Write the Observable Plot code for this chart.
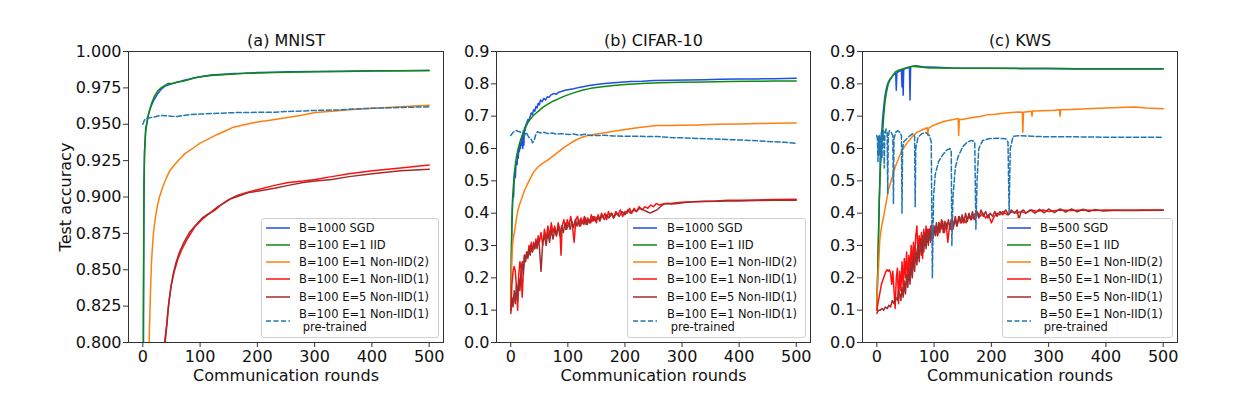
<!DOCTYPE html>
<html><head><meta charset="utf-8">
<script src="https://cdn.jsdelivr.net/npm/d3@7"></script>
<script src="https://cdn.jsdelivr.net/npm/@observablehq/plot@0.6"></script>
<style>
body{margin:0;background:#fff;font-family:"DejaVu Sans",sans-serif;}
#wrap{position:relative;width:1249px;height:412px;overflow:hidden;background:#fff;}
.leg{position:absolute;border:1px solid #d0d0d0;border-radius:3px;background:rgba(255,255,255,0.85);}
</style></head><body><div id="wrap"></div>
<script>
// ---------- tick labels / titles ----------
const titles = ["(a) MNIST", "(b) CIFAR-10", "(c) KWS"];
const xTicks = [0, 100, 200, 300, 400, 500];
const yTicksMnist = [0.800, 0.825, 0.850, 0.875, 0.900, 0.925, 0.950, 0.975, 1.000];
const yTicksOther = [0.0, 0.1, 0.2, 0.3, 0.4, 0.5, 0.6, 0.7, 0.8, 0.9];
const labelsMnistCifar = ["B=1000 SGD", "B=100 E=1 IID", "B=100 E=1 Non-IID(2)", "B=100 E=1 Non-IID(1)", "B=100 E=5 Non-IID(1)", "B=100 E=1 Non-IID(1)\n pre-trained"];
const labelsKws = ["B=500 SGD", "B=50 E=1 IID", "B=50 E=1 Non-IID(2)", "B=50 E=1 Non-IID(1)", "B=50 E=5 Non-IID(1)", "B=50 E=1 Non-IID(1)\n pre-trained"];

// ---------- (a) MNIST : [round, accuracy] ----------
const mnistSGD = [[0,0.10],[1,0.80],[2,0.90],[3,0.93],[5,0.945],[8,0.953],[10,0.957],[15,0.963],[20,0.967],[26,0.971],[32,0.974],[38,0.976],[44,0.977],[52,0.978],[61,0.979],[70,0.980],[80,0.981],[91,0.982],[105,0.983],[119,0.9838],[140,0.9843],[160,0.9848],[178,0.985],[200,0.9855],[230,0.9858],[254,0.986],[300,0.9862],[350,0.9865],[400,0.9867],[450,0.9868],[500,0.987]];
const mnistIID = [[0,0.10],[1,0.82],[2,0.91],[3,0.932],[5,0.947],[9,0.955],[12,0.96],[15,0.964],[20,0.969],[26,0.973],[32,0.975],[38,0.9765],[44,0.978],[52,0.978],[61,0.979],[70,0.9795],[80,0.9805],[91,0.982],[105,0.9828],[119,0.9835],[140,0.984],[160,0.9845],[178,0.985],[200,0.9852],[230,0.9855],[254,0.9858],[300,0.986],[350,0.9863],[400,0.9866],[450,0.9868],[500,0.987]];
const mnistNon2 = [[0,0.10],[3,0.30],[6,0.52],[8,0.65],[10,0.76],[11,0.80],[13,0.83],[15,0.854],[17,0.867],[19,0.877],[22,0.886],[25,0.893],[29,0.900],[35,0.907],[41,0.913],[47,0.918],[55,0.922],[64,0.926],[74,0.930],[86,0.933],[100,0.937],[115,0.940],[130,0.943],[145,0.9455],[158,0.948],[175,0.9495],[200,0.9515],[225,0.953],[250,0.9545],[275,0.956],[301,0.958],[330,0.959],[360,0.960],[401,0.961],[450,0.962],[500,0.963]];
const mnistNon1 = [[0,0.10],[10,0.30],[20,0.50],[28,0.65],[34,0.75],[38,0.80],[41,0.81],[44,0.822],[47,0.832],[50,0.84],[55,0.849],[61,0.857],[68,0.864],[79,0.872],[90,0.879],[102,0.884],[114,0.888],[126,0.891],[138,0.895],[149,0.898],[165,0.901],[180,0.903],[200,0.905],[230,0.908],[254,0.910],[280,0.911],[301,0.912],[330,0.914],[360,0.916],[401,0.918],[450,0.920],[500,0.922]];
const mnistE5 = [[0,0.10],[10,0.28],[20,0.48],[28,0.63],[34,0.74],[39,0.80],[42,0.812],[45,0.826],[49,0.838],[53,0.847],[58,0.855],[64,0.862],[72,0.869],[82,0.876],[93,0.881],[105,0.886],[117,0.889],[130,0.893],[142,0.896],[155,0.899],[170,0.901],[185,0.903],[200,0.904],[230,0.906],[254,0.908],[280,0.910],[301,0.911],[330,0.912],[360,0.914],[401,0.916],[450,0.918],[500,0.919]];
const mnistPre = [[0,0.950],[3,0.953],[6,0.954],[12,0.9545],[20,0.955],[30,0.956],[40,0.9558],[50,0.9555],[60,0.9553],[70,0.956],[80,0.9565],[100,0.957],[130,0.9575],[160,0.958],[200,0.9582],[230,0.9583],[250,0.9588],[270,0.959],[300,0.9595],[340,0.9598],[370,0.9605],[400,0.961],[450,0.9615],[500,0.962]];

// ---------- (b) CIFAR-10 ----------
const cifarSGD = [[0,0.10],[1,0.25],[2,0.36],[3,0.42],[4,0.46],[5,0.45],[6,0.50],[7,0.52],[8,0.51],[9,0.55],[10,0.56],[11,0.55],[12,0.58],[13,0.57],[14,0.60],[15,0.59],[16,0.61],[17,0.60],[18,0.63],[19,0.61],[20,0.64],[21,0.60],[22,0.655],[23,0.61],[24,0.665],[25,0.655],[26,0.67],[28,0.68],[30,0.69],[32,0.685],[34,0.70],[36,0.71],[38,0.705],[40,0.72],[42,0.715],[44,0.73],[46,0.725],[48,0.74],[50,0.735],[52,0.75],[55,0.745],[58,0.755],[61,0.75],[64,0.76],[67,0.758],[70,0.765],[75,0.77],[80,0.768],[85,0.775],[90,0.777],[95,0.78],[100,0.782],[110,0.785],[120,0.789],[135,0.794],[150,0.798],[165,0.801],[180,0.803],[193,0.805],[210,0.807],[230,0.808],[251,0.810],[280,0.811],[310,0.812],[340,0.813],[367,0.814],[400,0.815],[430,0.815],[460,0.816],[500,0.817]];
const cifarIID = [[0,0.10],[1,0.28],[2,0.38],[3,0.44],[4,0.47],[6,0.52],[8,0.55],[10,0.575],[13,0.60],[16,0.62],[19,0.635],[22,0.65],[26,0.665],[30,0.68],[35,0.693],[40,0.703],[48,0.715],[56,0.727],[65,0.737],[75,0.747],[85,0.755],[94,0.762],[110,0.772],[125,0.78],[140,0.786],[160,0.791],[180,0.795],[200,0.798],[230,0.801],[260,0.803],[300,0.805],[340,0.806],[380,0.807],[420,0.808],[460,0.8085],[500,0.809]];
const cifarNon2 = [[0,0.10],[1,0.20],[2,0.26],[3,0.30],[5,0.33],[6,0.337],[8,0.36],[10,0.385],[12,0.405],[15,0.425],[18,0.44],[21,0.455],[24,0.47],[28,0.485],[32,0.50],[35,0.51],[40,0.527],[47,0.542],[55,0.553],[64,0.563],[75,0.578],[85,0.592],[94,0.604],[105,0.617],[115,0.627],[122,0.633],[135,0.64],[150,0.645],[165,0.649],[180,0.653],[195,0.657],[209,0.661],[225,0.665],[240,0.668],[256,0.671],[280,0.671],[300,0.672],[330,0.673],[360,0.675],[400,0.676],[430,0.677],[460,0.678],[500,0.679]];
const cifarNon1 = [[0,0.10],[2,0.18],[4,0.22],[6,0.235],[8,0.22],[10,0.17],[12,0.10],[14,0.21],[16,0.25],[18,0.23],[20,0.14],[22,0.22],[24,0.27],[26,0.26],[28,0.28],[30,0.27],[32,0.30],[34,0.29],[36,0.31],[38,0.28],[40,0.31],[42,0.29],[44,0.32],[46,0.30],[48,0.33],[50,0.31],[53,0.34],[56,0.30],[59,0.35],[62,0.32],[65,0.36],[68,0.33],[71,0.37],[74,0.34],[77,0.36],[80,0.33],[83,0.37],[86,0.35],[88,0.27],[90,0.36],[93,0.38],[96,0.35],[99,0.38],[102,0.36],[105,0.39],[108,0.36],[111,0.31],[114,0.38],[117,0.39],[120,0.36],[123,0.385],[126,0.37],[129,0.39],[132,0.365],[135,0.385],[138,0.37],[141,0.395],[144,0.375],[147,0.39],[150,0.37],[153,0.395],[156,0.38],[159,0.40],[162,0.385],[165,0.40],[168,0.38],[171,0.405],[174,0.39],[177,0.40],[180,0.385],[184,0.405],[188,0.395],[192,0.41],[196,0.39],[200,0.405],[204,0.40],[208,0.415],[212,0.40],[216,0.415],[220,0.405],[225,0.42],[230,0.41],[235,0.42],[240,0.415],[245,0.425],[250,0.42],[255,0.43],[260,0.425],[270,0.43],[280,0.43],[290,0.432],[300,0.434],[320,0.435],[340,0.437],[360,0.438],[380,0.44],[400,0.44],[430,0.441],[460,0.442],[500,0.443]];
const cifarE5 = [[0,0.09],[2,0.14],[4,0.11],[6,0.16],[8,0.12],[10,0.18],[12,0.13],[14,0.20],[16,0.16],[18,0.22],[20,0.25],[22,0.21],[24,0.27],[26,0.25],[28,0.28],[30,0.26],[32,0.29],[34,0.27],[36,0.30],[38,0.28],[40,0.30],[42,0.29],[44,0.31],[46,0.29],[48,0.32],[50,0.30],[53,0.22],[56,0.31],[59,0.33],[62,0.30],[65,0.34],[68,0.31],[71,0.35],[74,0.32],[77,0.35],[80,0.33],[83,0.36],[86,0.33],[89,0.36],[92,0.34],[95,0.37],[98,0.35],[101,0.37],[104,0.35],[107,0.375],[110,0.355],[113,0.38],[116,0.36],[119,0.38],[122,0.36],[125,0.375],[128,0.365],[131,0.385],[134,0.365],[137,0.38],[140,0.37],[144,0.39],[148,0.375],[152,0.39],[156,0.375],[160,0.395],[164,0.38],[168,0.395],[172,0.385],[176,0.40],[180,0.385],[185,0.40],[190,0.39],[195,0.405],[200,0.395],[205,0.41],[210,0.40],[215,0.41],[220,0.405],[226,0.415],[232,0.41],[238,0.405],[244,0.40],[250,0.405],[256,0.41],[262,0.42],[268,0.428],[275,0.43],[282,0.428],[292,0.43],[305,0.433],[320,0.435],[340,0.436],[360,0.437],[380,0.438],[400,0.438],[430,0.439],[460,0.44],[500,0.44]];
const cifarPre = [[0,0.640],[4,0.650],[9,0.656],[15,0.652],[20,0.648],[24,0.640],[27,0.650],[30,0.640],[33,0.631],[36,0.628],[38,0.618],[41,0.625],[44,0.645],[47,0.652],[52,0.648],[58,0.650],[65,0.646],[72,0.648],[80,0.644],[88,0.646],[94,0.645],[102,0.643],[110,0.645],[120,0.641],[130,0.644],[140,0.640],[151,0.640],[165,0.641],[180,0.639],[200,0.638],[220,0.638],[240,0.637],[256,0.637],[280,0.634],[300,0.633],[330,0.631],[360,0.629],[390,0.627],[420,0.625],[450,0.622],[480,0.619],[500,0.616]];

// ---------- (c) KWS ----------
const kwsSGD = [[0,0.10],[2,0.25],[4,0.42],[6,0.55],[8,0.63],[10,0.69],[12,0.727],[14,0.76],[16,0.78],[18,0.795],[20,0.805],[23,0.815],[26,0.82],[29,0.828],[33,0.832],[34,0.78],[35,0.834],[38,0.838],[41,0.84],[43,0.842],[44,0.79],[45,0.845],[46,0.765],[47,0.845],[50,0.847],[53,0.849],[57,0.851],[58,0.75],[59,0.852],[62,0.854],[67,0.856],[72,0.855],[80,0.853],[90,0.852],[105,0.851],[130,0.849],[160,0.848],[192,0.848],[250,0.847],[300,0.847],[350,0.846],[400,0.846],[450,0.846],[500,0.846]];
const kwsIID = [[0,0.10],[2,0.25],[4,0.42],[6,0.53],[8,0.60],[10,0.645],[12,0.70],[14.5,0.748],[17,0.775],[20,0.80],[24,0.815],[28,0.826],[32,0.836],[38,0.842],[45,0.846],[52,0.85],[61,0.854],[70,0.853],[80,0.851],[91,0.849],[110,0.849],[150,0.848],[200,0.848],[250,0.848],[300,0.848],[350,0.847],[400,0.847],[450,0.847],[500,0.847]];
const kwsNon2 = [[0,0.10],[1,0.18],[3,0.233],[5,0.31],[6,0.33],[9,0.365],[11.6,0.388],[15,0.42],[20,0.47],[25,0.50],[32,0.542],[38,0.57],[44,0.594],[52,0.615],[61,0.635],[70,0.65],[80,0.658],[88,0.664],[89,0.64],[90,0.662],[99,0.672],[110,0.679],[120,0.685],[134,0.69],[142,0.693],[143,0.64],[144,0.69],[149,0.69],[165,0.695],[180,0.699],[192,0.704],[207,0.706],[220,0.709],[235,0.711],[250,0.713],[254,0.712],[255,0.65],[256,0.712],[270,0.715],[271,0.70],[272,0.716],[290,0.717],[310,0.718],[319,0.72],[320,0.70],[321,0.72],[340,0.721],[367,0.723],[400,0.725],[425,0.727],[450,0.728],[470,0.725],[500,0.723]];
const kwsNon1 = [[0,0.10],[2,0.12],[4,0.14],[6,0.16],[8,0.18],[10,0.19],[12,0.20],[14,0.21],[16,0.22],[18,0.225],[20,0.22],[22,0.225],[24,0.215],[26,0.18],[28,0.22],[30,0.16],[32,0.105],[34,0.20],[36,0.23],[38,0.12],[40,0.22],[42,0.16],[44,0.25],[46,0.17],[48,0.26],[50,0.20],[52,0.28],[54,0.19],[56,0.27],[58,0.22],[60,0.30],[62,0.24],[64,0.31],[66,0.25],[68,0.33],[70,0.36],[72,0.27],[74,0.33],[76,0.29],[78,0.34],[80,0.26],[82,0.35],[84,0.30],[86,0.36],[88,0.31],[90,0.35],[92,0.33],[94,0.36],[96,0.32],[98,0.35],[100,0.34],[103,0.36],[106,0.33],[109,0.37],[112,0.35],[115,0.375],[118,0.34],[121,0.37],[124,0.31],[127,0.36],[130,0.38],[133,0.35],[136,0.38],[140,0.36],[144,0.39],[148,0.37],[152,0.385],[156,0.37],[160,0.39],[165,0.38],[170,0.395],[175,0.405],[180,0.39],[185,0.40],[190,0.385],[195,0.395],[200,0.37],[205,0.39],[210,0.40],[215,0.395],[220,0.405],[228,0.395],[236,0.405],[244,0.40],[252,0.405],[260,0.40],[270,0.41],[280,0.405],[290,0.41],[300,0.405],[320,0.41],[340,0.408],[360,0.41],[380,0.408],[400,0.41],[430,0.409],[460,0.41],[500,0.41]];
const kwsE5 = [[0,0.09],[3,0.10],[6,0.10],[9,0.105],[12,0.10],[15,0.11],[18,0.105],[21,0.115],[24,0.11],[27,0.13],[30,0.12],[33,0.14],[36,0.13],[38,0.16],[40,0.15],[42,0.13],[44,0.17],[46,0.14],[48,0.19],[50,0.15],[52,0.21],[54,0.17],[56,0.23],[58,0.18],[60,0.25],[62,0.20],[64,0.27],[66,0.22],[68,0.29],[70,0.24],[72,0.30],[74,0.25],[76,0.32],[78,0.27],[80,0.33],[82,0.28],[84,0.34],[86,0.29],[88,0.35],[90,0.30],[92,0.35],[94,0.31],[96,0.36],[98,0.32],[100,0.36],[102,0.33],[104,0.37],[106,0.33],[108,0.37],[110,0.34],[113,0.38],[116,0.34],[119,0.375],[122,0.35],[125,0.38],[128,0.35],[131,0.385],[134,0.36],[137,0.39],[140,0.36],[143,0.39],[146,0.37],[149,0.395],[152,0.37],[155,0.40],[158,0.375],[161,0.40],[164,0.38],[167,0.405],[170,0.38],[174,0.405],[178,0.385],[182,0.41],[186,0.39],[190,0.405],[194,0.385],[198,0.40],[202,0.39],[206,0.405],[210,0.39],[215,0.405],[220,0.395],[225,0.41],[230,0.395],[235,0.41],[240,0.40],[245,0.41],[248,0.38],[252,0.405],[256,0.41],[260,0.40],[268,0.41],[276,0.40],[284,0.412],[292,0.401],[300,0.413],[310,0.402],[320,0.413],[330,0.403],[340,0.413],[350,0.404],[360,0.412],[370,0.405],[380,0.411],[395,0.407],[420,0.409],[450,0.408],[500,0.409]];
const kwsPre = [[0,0.64],[1,0.63],[2,0.56],[3,0.64],[4,0.58],[5,0.64],[6,0.55],[7,0.62],[8,0.65],[9,0.57],[10,0.64],[12,0.655],[13,0.54],[14,0.64],[16,0.66],[18,0.65],[19,0.46],[20,0.64],[22,0.655],[25,0.65],[28,0.64],[29,0.43],[30,0.63],[33,0.65],[36,0.655],[40,0.65],[43,0.64],[44,0.40],[45,0.60],[47,0.62],[52,0.63],[58,0.64],[62,0.645],[66,0.64],[67,0.42],[68,0.60],[72,0.635],[78,0.645],[85,0.65],[92,0.64],[95,0.62],[97,0.20],[99,0.45],[102,0.52],[108,0.56],[115,0.58],[122,0.595],[128,0.60],[130,0.59],[131,0.30],[133,0.45],[137,0.54],[142,0.575],[150,0.605],[158,0.62],[166,0.625],[171,0.62],[173,0.35],[175,0.50],[178,0.60],[185,0.625],[195,0.63],[210,0.632],[225,0.63],[229,0.62],[231,0.40],[233,0.60],[238,0.638],[250,0.64],[270,0.638],[300,0.636],[350,0.636],[400,0.635],[450,0.635],[500,0.635]];

// ---------- styling ----------
const colors = ["#1f4fe6", "#0f8a0f", "#ff7f0e", "#ff1010", "#a52a2a", "#1f77b4"];
const dashes = [null, null, null, null, null, "5,2.5"];
const FONT = "DejaVu Sans";

const panels = [
  {left: 0, width: 452, mL: 128, mR: 9, title: titles[0], yDomain: [0.8, 1.0], yTicks: yTicksMnist, fmt: ".3f", ylabel: true,
   series: [mnistSGD, mnistIID, mnistNon2, mnistNon1, mnistE5, mnistPre], labels: labelsMnistCifar,
   leg: {left: 261, top: 218, width: 176, height: 118, sx: 4, tx: 37}},
  {left: 452, width: 373, mL: 44, mR: 15, title: titles[1], yDomain: [0, 0.9], yTicks: yTicksOther, fmt: ".1f", ylabel: false,
   series: [cifarSGD, cifarIID, cifarNon2, cifarNon1, cifarE5, cifarPre], labels: labelsMnistCifar,
   leg: {left: 627, top: 218, width: 177, height: 118, sx: 5, tx: 39}},
  {left: 825, width: 424, mL: 37, mR: 72, title: titles[2], yDomain: [0, 0.9], yTicks: yTicksOther, fmt: ".1f", ylabel: false,
   series: [kwsSGD, kwsIID, kwsNon2, kwsNon1, kwsE5, kwsPre], labels: labelsKws,
   leg: {left: 1002, top: 218, width: 169, height: 118, sx: 4, tx: 37}}
];

const wrap = document.getElementById("wrap");

for (const p of panels) {
  const marks = [];
  p.series.forEach((s, i) => {
    marks.push(Plot.line(s, {x: d => d[0], y: d => d[1], stroke: colors[i], strokeWidth: 1.5,
      strokeDasharray: dashes[i] || undefined, clip: true}));
  });
  marks.push(Plot.frame({stroke: "#333", strokeWidth: 1}));
  marks.push(Plot.axisX({ticks: xTicks, tickSize: 5, tickPadding: 3, label: null, fontSize: 16, stroke: "#333"}));
  marks.push(Plot.axisY({ticks: p.yTicks, tickFormat: d3.format(p.fmt), tickSize: 5, tickPadding: 2, label: null, fontSize: 16, stroke: "#333"}));
  marks.push(Plot.text([p.title], {frameAnchor: "top", dy: -11, fontSize: 16, lineAnchor: "middle", fill: "#111"}));
  marks.push(Plot.text(["Communication rounds"], {frameAnchor: "bottom", dy: 33, fontSize: 16, lineAnchor: "middle", fill: "#111"}));
  if (p.ylabel) {
    marks.push(Plot.text(["Test accuracy"], {frameAnchor: "left", dx: -63, rotate: -90, textAnchor: "middle", lineAnchor: "middle", fontSize: 16, fill: "#111"}));
  }
  const svg = Plot.plot({
    width: p.width, height: 412,
    marginLeft: p.mL, marginRight: p.mR, marginTop: 51, marginBottom: 70,
    x: {domain: [-25, 525]},
    y: {domain: p.yDomain},
    style: {fontFamily: FONT, fontSize: "16px", color: "#111", background: "transparent"},
    marks
  });
  svg.style.position = "absolute";
  svg.style.left = p.left + "px";
  svg.style.top = "0px";
  wrap.appendChild(svg);

  // legend
  const L = p.leg;
  const div = document.createElement("div");
  div.className = "leg";
  div.style.left = L.left + "px"; div.style.top = L.top + "px";
  div.style.width = L.width + "px"; div.style.height = L.height + "px";
  wrap.appendChild(div);
  const lsvg = d3.select(div).append("svg").attr("width", L.width).attr("height", L.height)
    .style("position", "absolute").style("left", "0").style("top", "0")
    .style("font-family", FONT).style("font-size", "11.5px");
  const rowY = [9, 26, 43, 60, 78, 102];
  p.labels.forEach((lab, i) => {
    lsvg.append("line").attr("x1", L.sx).attr("x2", L.sx + 24).attr("y1", rowY[i]).attr("y2", rowY[i])
      .attr("stroke", colors[i]).attr("stroke-width", 1.5)
      .attr("stroke-dasharray", dashes[i] || null);
    const parts = lab.split("\n");
    if (parts.length === 1) {
      lsvg.append("text").attr("x", L.tx).attr("y", rowY[i]).attr("dy", "0.35em").attr("fill", "#111").text(parts[0]);
    } else {
      lsvg.append("text").attr("x", L.tx).attr("y", 95).attr("dy", "0.35em").attr("fill", "#111").text(parts[0]);
      lsvg.append("text").attr("x", L.tx).attr("y", 108).attr("dy", "0.35em").attr("fill", "#111").style("white-space", "pre").text(parts[1]);
    }
  });
}
</script></body></html>
